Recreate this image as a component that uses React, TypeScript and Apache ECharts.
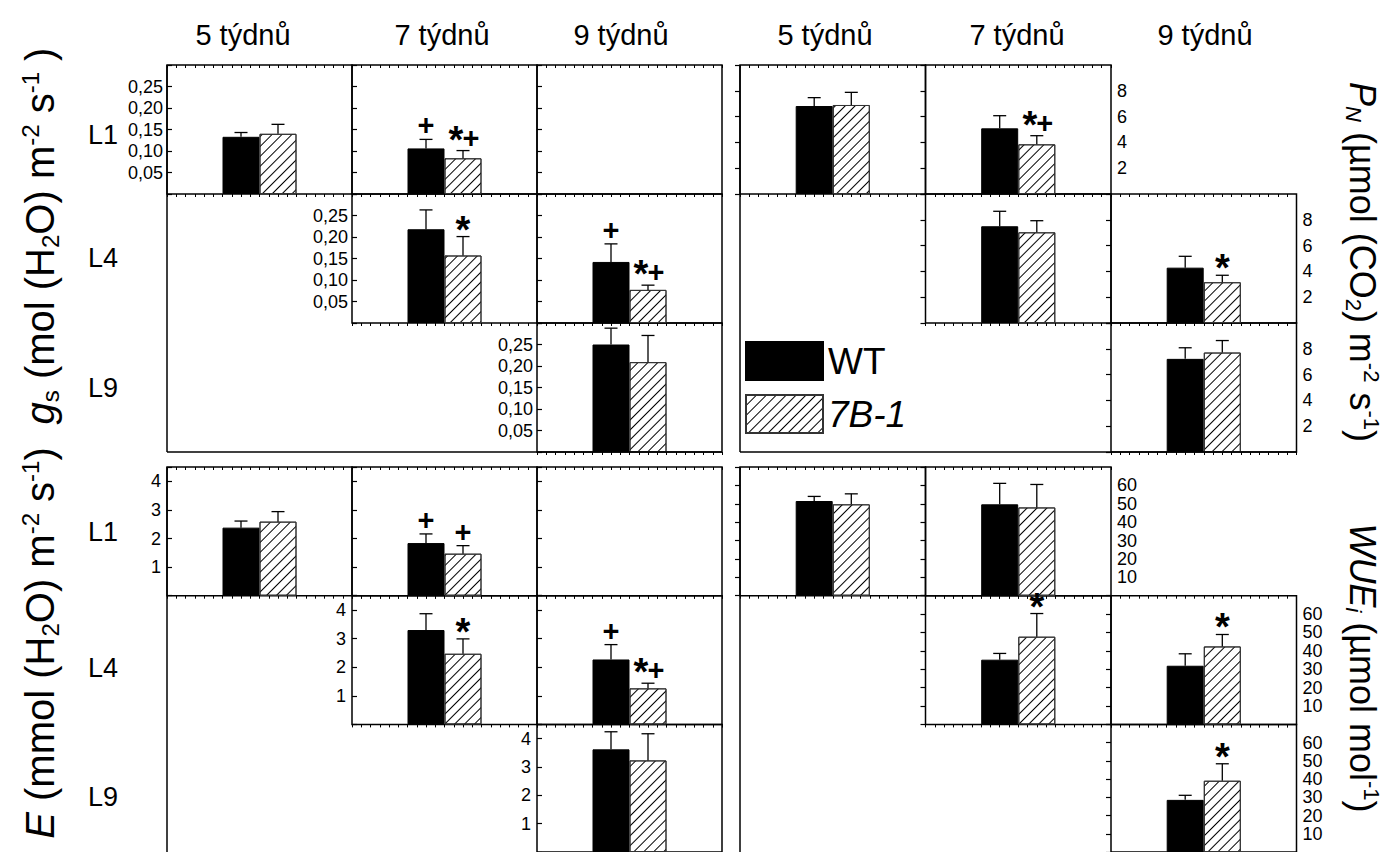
import React, { useEffect, useRef } from 'react';
import * as echarts from 'echarts';

const weeks = ['5 týdnů', '7 týdnů', '9 týdnů'];
const lineNames = ['L1', 'L4', 'L9'];
const seriesNames = ['WT', '7B-1'];

// g_s (mol H2O m-2 s-1) — rows L1, L4, L9; columns 5, 7, 9 weeks
const gsWT = [[0.133, 0.106, null], [null, 0.218, 0.142], [null, null, 0.25]];
const gsWTErr = [[0.01, 0.021, null], [null, 0.045, 0.042], [null, null, 0.038]];
const gs7B = [[0.14, 0.083, null], [null, 0.157, 0.077], [null, null, 0.209]];
const gs7BErr = [[0.022, 0.018, null], [null, 0.044, 0.011], [null, null, 0.062]];
const gsMarkWT = [['', '+', ''], ['', '', '+'], ['', '', '']];
const gsMark7B = [['', '*+', ''], ['', '*', '*+'], ['', '', '']];
const gsTicks = [0.05, 0.1, 0.15, 0.2, 0.25];

// P_N (umol CO2 m-2 s-1)
const pnWT = [[6.82, 5.09, null], [null, 7.5, 4.29], [null, null, 7.22]];
const pnWTErr = [[0.65, 0.98, null], [null, 1.16, 0.88], [null, null, 0.86]];
const pn7B = [[6.9, 3.85, null], [null, 7.03, 3.16], [null, null, 7.71]];
const pn7BErr = [[0.98, 0.67, null], [null, 0.9, 0.54], [null, null, 0.93]];
const pnMarkWT = [['', '', ''], ['', '', ''], ['', '', '']];
const pnMark7B = [['', '*+', ''], ['', '', '*'], ['', '', '']];
const pnTicks = [2, 4, 6, 8];

// E (mmol H2O m-2 s-1)
const eWT = [[2.38, 1.84, null], [null, 3.3, 2.27], [null, null, 3.62]];
const eWTErr = [[0.23, 0.32, null], [null, 0.57, 0.52], [null, null, 0.62]];
const e7B = [[2.59, 1.47, null], [null, 2.47, 1.26], [null, null, 3.23]];
const e7BErr = [[0.35, 0.28, null], [null, 0.52, 0.18], [null, null, 0.94]];
const eMarkWT = [['', '+', ''], ['', '', '+'], ['', '', '']];
const eMark7B = [['', '+', ''], ['', '*', '*+'], ['', '', '']];
const eTicks = [1, 2, 3, 4];

// WUE_i (umol mol-1)
const wWT = [[51.5, 49.7, null], [null, 35.2, 31.9], [null, null, 28.6]];
const wWTErr = [[2.5, 11.4, null], [null, 3.4, 6.5], [null, null, 2.5]];
const w7B = [[49.7, 48, null], [null, 47.7, 42.4], [null, null, 39.1]];
const w7BErr = [[5.7, 12.5, null], [null, 12.6, 6.5], [null, null, 9.3]];
const wMarkWT = [['', '', ''], ['', '', ''], ['', '', '']];
const wMark7B = [['', '', ''], ['', '*', '*'], ['', '', '*']];
const wTicks = [10, 20, 30, 40, 50, 60];

const FONT = '"Liberation Sans", Arial, Helvetica, sans-serif';
const framesLeft = [[1, 1, 1], [0, 1, 1], [0, 0, 1]];
const framesRight = [[1, 1, 0], [0, 1, 1], [0, 0, 1]];

const comma = (v: number) => v.toFixed(2).replace('.', ',');
const plain = (v: number) => String(Math.round(v));

export default function App() {
  const ref = useRef<HTMLDivElement>(null);
  useEffect(() => {
    const chart = echarts.init(ref.current!, null, { renderer: 'svg' });
    const grid: any[] = [];
    const xAxis: any[] = [];
    const yAxis: any[] = [];
    const series: any[] = [];
    const graphic: any[] = [];

    const blocks = [
      { left: 167, top: 65, cw: 185, ch: 129, frames: framesLeft, side: 'left', max: 0.3, interval: 0.05, ticks: gsTicks, fmt: comma, wt: gsWT, wtE: gsWTErr, mu: gs7B, muE: gs7BErr, mW: gsMarkWT, mM: gsMark7B, margin: 4 },
      { left: 740, top: 65, cw: 185.5, ch: 129, frames: framesRight, side: 'right', max: 10, interval: 2, ticks: pnTicks, fmt: plain, wt: pnWT, wtE: pnWTErr, mu: pn7B, muE: pn7BErr, mW: pnMarkWT, mM: pnMark7B, margin: 6 },
      { left: 167, top: 467, cw: 185, ch: 128.7, frames: framesLeft, side: 'left', max: 4.5, interval: 1, ticks: eTicks, fmt: plain, wt: eWT, wtE: eWTErr, mu: e7B, muE: e7BErr, mW: eMarkWT, mM: eMark7B, margin: 6 },
      { left: 740, top: 467, cw: 185.5, ch: 128.7, frames: framesRight, side: 'right', max: 70, interval: 10, ticks: wTicks, fmt: plain, wt: wWT, wtE: wWTErr, mu: w7B, muE: w7BErr, mW: wMarkWT, mM: wMark7B, margin: 6 },
    ];

    const markText = (txt: string, x: number, y: number, size: number) => ({
      type: 'text', x, y, z2: 10,
      style: { text: txt, fontSize: size, fontWeight: 'bold', fontFamily: FONT, fill: '#000', align: 'center', verticalAlign: 'middle', textAlign: 'center', textVerticalAlign: 'middle' },
    });

    blocks.forEach((b) => {
      for (let r = 0; r < 3; r++) {
        const cols = [0, 1, 2].filter((c) => b.frames[r][c]);
        const labelCol = b.side === 'left' ? cols[0] : cols[cols.length - 1];
        for (const c of cols) {
          const g = grid.length;
          grid.push({ left: b.left + c * b.cw, top: b.top + r * b.ch, width: b.cw, height: b.ch, show: true, borderColor: '#000', borderWidth: 1.5, backgroundColor: 'rgba(0,0,0,0)' });
          const xi = xAxis.length;
          xAxis.push({ gridIndex: g, type: 'value', min: 0, max: 20, interval: 1, position: 'bottom', axisLine: { show: false }, axisTick: { show: true, length: 3, inside: false, lineStyle: { color: '#000', width: 1 } }, axisLabel: { show: false }, splitLine: { show: false } });
          xAxis.push({ gridIndex: g, type: 'value', min: 0, max: 20, interval: 1, position: 'top', axisLine: { show: false }, axisTick: { show: true, length: 3, inside: true, lineStyle: { color: '#000', width: 1 } }, axisLabel: { show: false }, splitLine: { show: false } });
          const yi = yAxis.length;
          const ticks = b.ticks;
          const fmt = b.fmt;
          yAxis.push({
            gridIndex: g, type: 'value', min: 0, max: b.max, interval: b.interval, position: b.side,
            axisLine: { show: false }, splitLine: { show: false },
            axisTick: { show: true, inside: true, length: 5, lineStyle: { color: '#000', width: 1.2 } },
            axisLabel: {
              show: c === labelCol, margin: b.margin, fontSize: 18, fontFamily: FONT, color: '#000',
              formatter: (v: number) => (ticks.some((t) => Math.abs(t - v) < 1e-9) ? fmt(v) : ''),
            },
          });
          const wv = b.wt[r][c];
          if (wv == null) continue;
          const mv = b.mu[r][c] as number;
          series.push({
            type: 'bar', name: seriesNames[0], xAxisIndex: xi, yAxisIndex: yi, barWidth: 37, barGap: '-100%',
            data: [[8, wv]], itemStyle: { color: '#000', borderColor: '#000', borderWidth: 1 }, silent: true,
          });
          series.push({
            type: 'bar', name: seriesNames[1], xAxisIndex: xi, yAxisIndex: yi, barWidth: 37, barGap: '-100%',
            data: [[12, mv]], silent: true,
            itemStyle: { color: '#fff', borderColor: '#333', borderWidth: 1, decal: { symbol: 'rect', symbolSize: 1, color: '#000', dashArrayX: [1, 0], dashArrayY: [1, 6], rotation: -Math.PI / 4 } },
          });
          const marks = [b.mW[r][c], b.mM[r][c]];
          series.push({
            type: 'custom', xAxisIndex: xi, yAxisIndex: yi, z: 5, silent: true,
            data: [[8, wv, b.wtE[r][c]], [12, mv, b.muE[r][c]]],
            renderItem: (params: any, api: any) => {
              const x = api.value(0), v = api.value(1), e = api.value(2);
              const base = api.coord([x, v]);
              const top = api.coord([x, v + e]);
              const cx = top[0], cy = top[1];
              const children: any[] = [
                { type: 'line', shape: { x1: cx, y1: base[1], x2: cx, y2: cy }, style: { stroke: '#000', lineWidth: 1.3 } },
                { type: 'line', shape: { x1: cx - 6.5, y1: cy, x2: cx + 6.5, y2: cy }, style: { stroke: '#000', lineWidth: 1.3 } },
              ];
              const m = marks[params.dataIndex];
              if (m === '+') children.push(markText('+', cx, cy - 14, 29));
              else if (m === '*') children.push(markText('*', cx, cy - 15 + 0.21 * 38, 38));
              else if (m === '*+') {
                children.push(markText('*', cx - 7, cy - 19 + 0.21 * 38, 38));
                children.push(markText('+', cx + 8, cy - 13, 29));
              }
              return { type: 'group', children };
            },
          });
        }
      }
      // outer left & bottom lines of block
      const bottom = b.top + 3 * b.ch;
      graphic.push({ type: 'line', shape: { x1: b.left, y1: b.top, x2: b.left, y2: bottom }, style: { stroke: '#000', lineWidth: 1.5 }, z: 10 });
      graphic.push({ type: 'line', shape: { x1: b.left, y1: bottom, x2: b.left + 3 * b.cw, y2: bottom }, style: { stroke: '#000', lineWidth: 1.5 }, z: 10 });
    });

    const txt = (text: string, x: number, y: number, size: number, extra: any = {}) => ({
      type: 'text', x, y, z: 20,
      style: { text, fontSize: size, fontFamily: FONT, fill: '#000', align: 'center', verticalAlign: 'middle', textAlign: 'center', textVerticalAlign: 'middle', ...extra },
    });

    const headerX = [243, 442, 621, 825, 1017, 1205];
    headerX.forEach((x, i) => graphic.push(txt(weeks[i % 3], x, 35, 29)));
    const rowY = [135, 258, 388, 532, 668, 797];
    rowY.forEach((y, i) => graphic.push(txt(lineNames[i % 3], 103, y, 27)));

    const mkRich = (big: number, small: number) => ({
      n: { fontSize: big, fontFamily: FONT, fill: '#000', lineHeight: big + 4 },
      i: { fontSize: big, fontFamily: FONT, fill: '#000', fontStyle: 'italic', lineHeight: big + 4 },
      sub: { fontSize: small, fontFamily: FONT, fill: '#000', verticalAlign: 'bottom', lineHeight: 14 },
      isub: { fontSize: small, fontFamily: FONT, fill: '#000', fontStyle: 'italic', verticalAlign: 'bottom', lineHeight: 14 },
      sup: { fontSize: small, fontFamily: FONT, fill: '#000', verticalAlign: 'top', lineHeight: 14 },
    });
    const richLeft = mkRich(40, 24);
    const richRight = mkRich(36, 22);
    const title = (text: string, x: number, y: number, rot: number, rich: any) => ({
      type: 'text', x, y, rotation: rot, z: 20,
      style: { text, rich, align: 'center', verticalAlign: 'middle', textAlign: 'center', textVerticalAlign: 'middle' },
    });
    graphic.push(title('{i|g}{sub|s}{n| (mol (H}{sub|2}{n|O) m}{sup|-2}{n| s}{sup|-1}{n| )}', 40, 236, Math.PI / 2, richLeft));
    graphic.push(title('{i|E}{n| (mmol (H}{sub|2}{n|O) m}{sup|-2}{n| s}{sup|-1}{n|)}', 40, 643, Math.PI / 2, richLeft));
    graphic.push(title('{i|P}{isub|N}{n| (µmol (CO}{sub|2}{n|) m}{sup|-2}{n| s}{sup|-1}{n|)}', 1362, 262, -Math.PI / 2, richRight));
    graphic.push(title('{i|WUE}{isub|i}{n| (µmol mol}{sup|-1}{n|)}', 1362, 668, -Math.PI / 2, richRight));

    chart.setOption({
      animation: false,
      backgroundColor: '#fff',
      grid, xAxis, yAxis, series, graphic,
      legend: {
        data: [{ name: 'WT' }, { name: '7B-1', textStyle: { fontStyle: 'italic' } }],
        orient: 'vertical', left: 745, top: 341, itemWidth: 77, itemHeight: 38, itemGap: 13, icon: 'rect',
        selectedMode: false, padding: 0,
        textStyle: { fontSize: 37, color: '#000', fontFamily: FONT },
      },
    });
    return () => chart.dispose();
  }, []);
  return <div ref={ref} style={{ position: 'fixed', left: 0, top: 0, width: 1400, height: 852, background: '#fff' }} />;
}
